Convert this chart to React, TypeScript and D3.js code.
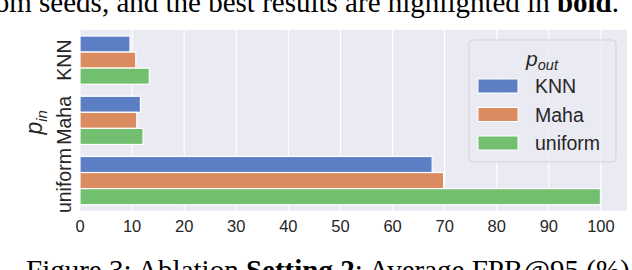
import * as d3 from "d3";
import React, { useEffect, useRef } from "react";

// p_in categories (y axis) and p_out series (legend)
const pIn = ["KNN", "Maha", "uniform"];
const pOut = ["KNN", "Maha", "uniform"];
// FPR@95 (%) per p_out series, in pIn order
const knnValues = [9.6, 11.6, 67.6];
const mahaValues = [10.7, 10.9, 69.8];
const uniformValues = [13.3, 12.1, 99.9];
const xTicks = [0, 10, 20, 30, 40, 50, 60, 70, 80, 90, 100];
const colors = ["#5b7ec4", "#da8b5f", "#72bf6f"];

const App = () => {
  const svgRef = useRef(null);
  const width = 632;
  const height = 270;
  const left = 80;
  const right = 627;
  const top = 30;
  const bottom = 210.7;
  const font = "'Liberation Sans', Arial, sans-serif";
  const serif = "'Liberation Serif', 'Times New Roman', serif";

  useEffect(() => {
    const svg = d3.select(svgRef.current);
    svg.selectAll("*").remove();

    const seriesValues = [knnValues, mahaValues, uniformValues];
    const data = pIn.flatMap((cat, i) =>
      pOut.map((s, j) => ({ cat, series: s, value: seriesValues[j][i], j }))
    );

    const xScale = d3.scaleLinear().domain([0, 105]).range([left, right]);
    const yScale = d3.scaleBand().domain(pIn).range([top, bottom]).padding(0);
    const bw = yScale.bandwidth();
    const inner = d3.scaleBand().domain(pOut).range([0.1 * bw, 0.9 * bw]).padding(0);

    // background
    svg.append("rect")
      .attr("x", left).attr("y", top)
      .attr("width", right - left).attr("height", bottom - top)
      .attr("fill", "#eaeaf2");

    // grid
    svg.append("g").selectAll("line")
      .data(xTicks)
      .enter()
      .append("line")
      .attr("x1", (d) => xScale(d)).attr("x2", (d) => xScale(d))
      .attr("y1", top).attr("y2", bottom)
      .attr("stroke", "#ffffff").attr("stroke-width", 1.1);

    // bars
    svg.append("g").selectAll("rect")
      .data(data)
      .enter()
      .append("rect")
      .attr("x", xScale(0))
      .attr("y", (d) => yScale(d.cat) + inner(d.series))
      .attr("width", (d) => xScale(d.value) - xScale(0))
      .attr("height", inner.bandwidth())
      .attr("fill", (d) => colors[d.j])
      .attr("stroke", "#ffffff")
      .attr("stroke-width", 1.2);

    // x tick labels
    svg.append("g").selectAll("text")
      .data(xTicks)
      .enter()
      .append("text")
      .attr("x", (d) => xScale(d))
      .attr("y", 231.5)
      .attr("text-anchor", "middle")
      .style("font", `16.5px ${font}`)
      .attr("fill", "#262626")
      .text((d) => d);

    // y tick labels
    svg.append("g").selectAll("text")
      .data(pIn)
      .enter()
      .append("text")
      .attr("transform", (d) => `translate(71, ${yScale(d) + bw / 2}) rotate(-90)`)
      .attr("text-anchor", "middle")
      .style("font", `19.5px ${font}`)
      .attr("fill", "#262626")
      .text((d) => d);

    // y label p_in
    const yl = svg.append("text")
      .attr("transform", `translate(42, ${(top + bottom) / 2 + 2}) rotate(-90)`)
      .attr("text-anchor", "middle")
      .style("font", `italic 23px ${font}`)
      .attr("fill", "#262626");
    yl.append("tspan").text("p");
    yl.append("tspan").attr("dy", 5).style("font-size", "15px").text("in");

    // legend
    const lg = svg.append("g");
    lg.append("rect")
      .attr("x", 469).attr("y", 40)
      .attr("width", 147).attr("height", 122)
      .attr("rx", 4)
      .attr("fill", "rgba(234,234,242,0.8)")
      .attr("stroke", "rgba(204,204,204,0.8)")
      .attr("stroke-width", 1);
    const lt = lg.append("text")
      .attr("x", 542).attr("y", 66)
      .attr("text-anchor", "middle")
      .style("font", `italic 21px ${font}`)
      .attr("fill", "#262626");
    lt.append("tspan").text("p");
    lt.append("tspan").attr("dy", 4).style("font-size", "14.5px").text("out");

    const rows = lg.selectAll("g.row")
      .data(pOut)
      .enter()
      .append("g")
      .attr("transform", (d, i) => `translate(0, ${86 + i * 28.5})`);
    rows.append("rect")
      .attr("x", 478).attr("y", -7)
      .attr("width", 40).attr("height", 14)
      .attr("fill", (d, i) => colors[i])
      .attr("stroke", "#ffffff").attr("stroke-width", 1);
    rows.append("text")
      .attr("x", 535).attr("y", 7)
      .style("font", `19.5px ${font}`)
      .attr("fill", "#262626")
      .text((d) => d);

    // surrounding caption text (cut off by the crop, as in the source)
    const cap = svg.append("text")
      .attr("x", 619).attr("y", 12)
      .attr("text-anchor", "end")
      .style("font", `29px ${serif}`)
      .attr("fill", "#000");
    cap.append("tspan").text("random seeds, and the best results are highlighted in ");
    cap.append("tspan").style("font-weight", "bold").text("bold");
    cap.append("tspan").text(".");

    const fig = svg.append("text")
      .attr("x", 26).attr("y", 280)
      .style("font", `29px ${serif}`)
      .attr("fill", "#000");
    fig.append("tspan").text("Figure 3: Ablation ");
    fig.append("tspan").style("font-weight", "bold").text("Setting 2");
    fig.append("tspan").text(": Average FPR@95 (%)");
  }, []);

  return (
    <svg
      ref={svgRef}
      width={width}
      height={height}
      style={{ position: "absolute", left: 0, top: 0, background: "#fff" }}
    />
  );
};

export default App;
